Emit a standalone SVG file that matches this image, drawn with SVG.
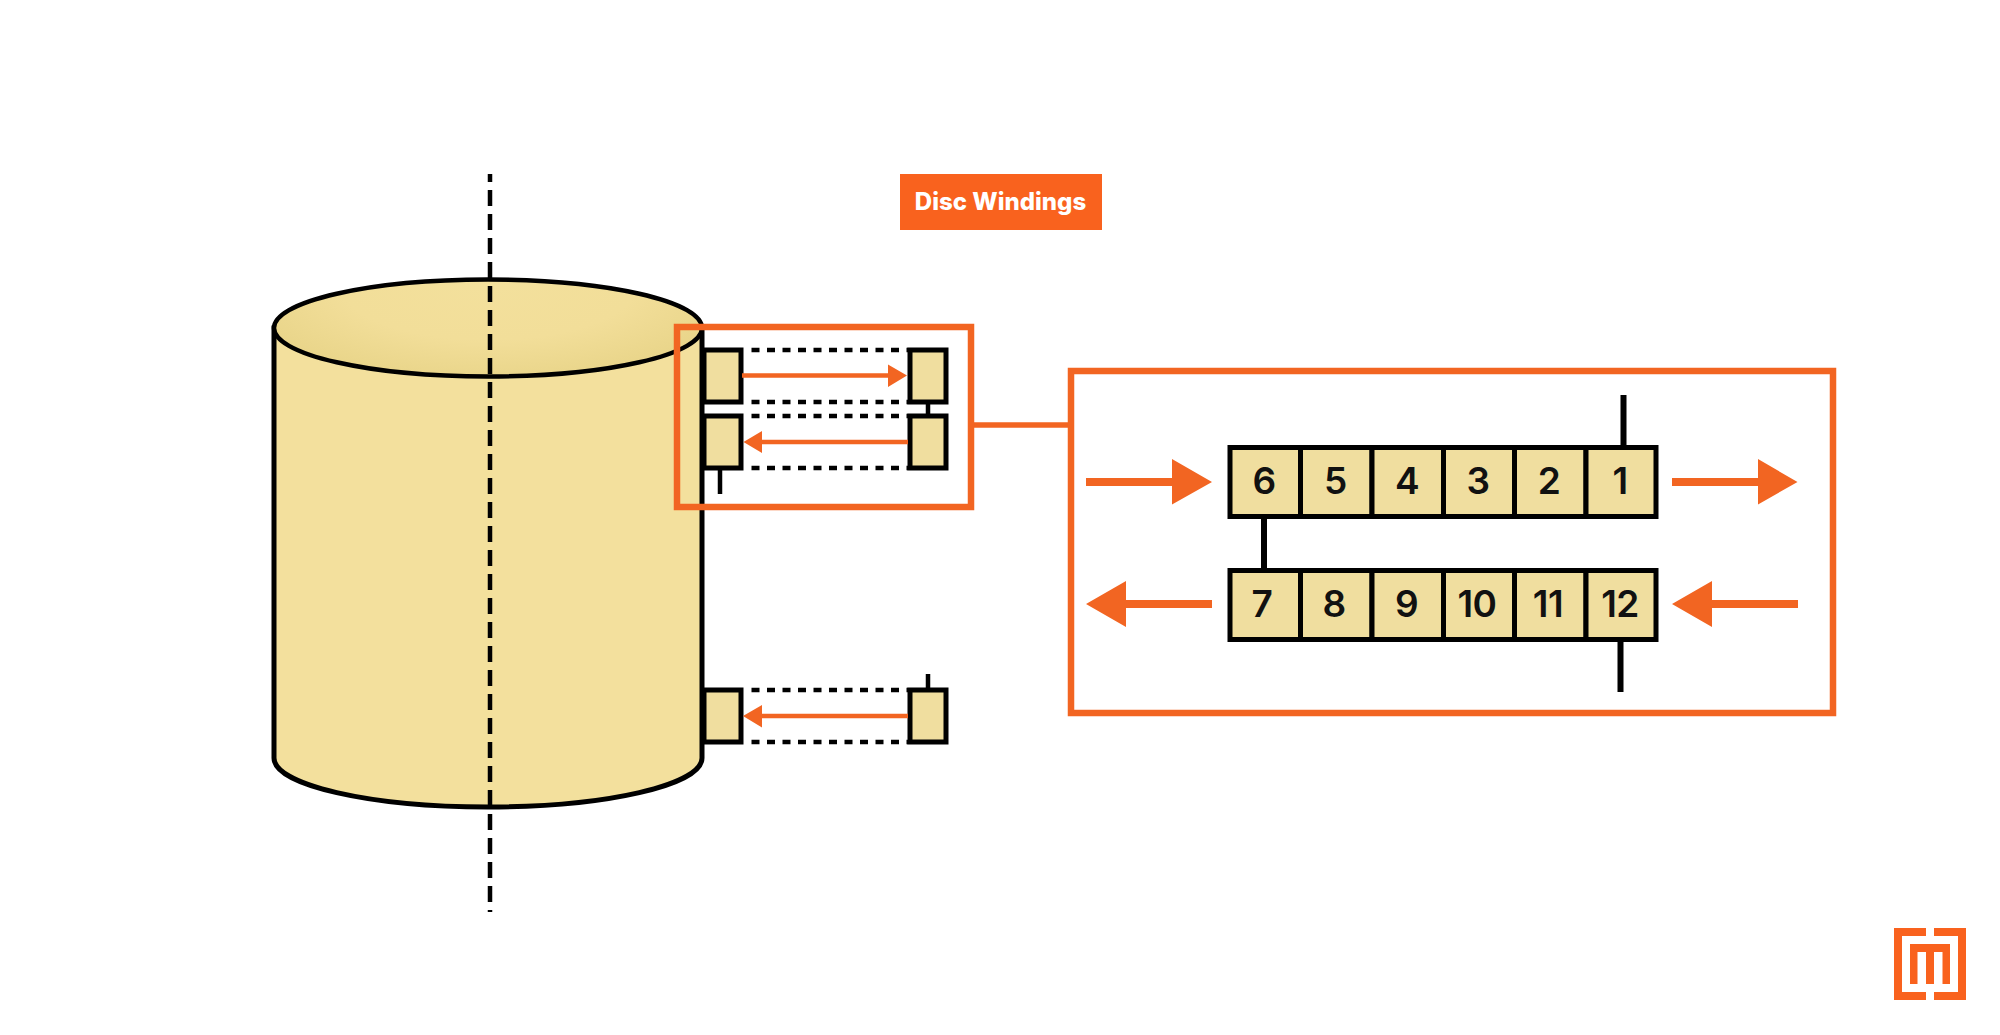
<svg xmlns="http://www.w3.org/2000/svg" width="2000" height="1035" viewBox="0 0 2000 1035">
<style>
.dash{fill:none;stroke:#000;stroke-width:4.5;stroke-dasharray:8 7.5}
.cell{fill:#F0DE9F;stroke:#000;stroke-width:5}
.wire{stroke:#000;fill:none}
.o{fill:none;stroke:#F26522;stroke-width:6.5}
.oa{fill:#F26522}
.ol{stroke:#F26522;fill:none}
.n{font-family:Inter,"Liberation Sans",sans-serif;font-size:37px;font-weight:600;fill:#111;text-anchor:middle;letter-spacing:-0.5px}
</style>
<defs>
<radialGradient id="rim" gradientUnits="userSpaceOnUse" cx="0" cy="0" r="1" gradientTransform="translate(488 285) scale(270 100)">
<stop offset="0" stop-color="#F3E09C"/><stop offset="0.55" stop-color="#F2DE99"/><stop offset="1" stop-color="#E8D488"/>
</radialGradient>
</defs>
<rect width="2000" height="1035" fill="#fff"/>

<g id="cylinder">
<path d="M274 328V758A214 49 0 0 0 702 758V328Z" fill="#F3E09D" stroke="#000" stroke-width="5"/>
<ellipse cx="488" cy="328" rx="214" ry="48.5" fill="url(#rim)" stroke="#000" stroke-width="4.500"/>
</g>
<g id="axis">
<path d="M490 174V912" fill="none" stroke="#000" stroke-width="4.500" stroke-dasharray="16 8" stroke-dashoffset="8"/>
</g>

<g id="windings-top">
<rect class="cell" x="704" y="350" width="37" height="52"/>
<rect class="cell" x="910" y="350" width="36" height="52"/>
<rect class="cell" x="704" y="416" width="37" height="52"/>
<rect class="cell" x="910" y="416" width="36" height="52"/>
</g>
<g id="windings-bottom">
<rect class="cell" x="704" y="690" width="37" height="52"/>
<rect class="cell" x="910" y="690" width="36" height="52"/>
</g>

<g id="cells">
<g id="row-top">
<rect class="cell" x="1230" y="447.5" width="70.5" height="69"/>
<rect class="cell" x="1300.500" y="447.5" width="71.500" height="69"/>
<rect class="cell" x="1372" y="447.5" width="71.5" height="69"/>
<rect class="cell" x="1443.500" y="447.5" width="71" height="69"/>
<rect class="cell" x="1514.500" y="447.5" width="71.500" height="69"/>
<rect class="cell" x="1586" y="447.5" width="70" height="69"/>
</g>
<g id="row-bottom">
<rect class="cell" x="1230" y="570.500" width="70.5" height="69"/>
<rect class="cell" x="1300.500" y="570.500" width="71.500" height="69"/>
<rect class="cell" x="1372" y="570.500" width="71.5" height="69"/>
<rect class="cell" x="1443.500" y="570.500" width="71" height="69"/>
<rect class="cell" x="1514.500" y="570.500" width="71.500" height="69"/>
<rect class="cell" x="1586" y="570.500" width="70" height="69"/>
</g>
<g id="labels">
<text class="n" x="1264" y="494">6</text>
<text class="n" x="1335.500" y="494">5</text>
<text class="n" x="1407" y="494">4</text>
<text class="n" x="1478" y="494">3</text>
<text class="n" x="1549" y="494">2</text>
<text class="n" x="1620" y="494">1</text>
<text class="n" x="1262" y="617">7</text>
<text class="n" x="1334" y="617">8</text>
<text class="n" x="1406.500" y="617">9</text>
<text class="n" x="1477" y="617">10</text>
<text class="n" x="1548" y="617">11</text>
<text class="n" x="1620" y="617">12</text>
</g>
</g>

<g id="connectors">
<path class="dash" d="M751.500 350H908M751.500 402H908M751.500 416H908M751.500 468H908M751.500 690H908M751.500 742H908"/>
<path class="wire" stroke-width="4.500" d="M928 402V416M720 470V494M928 674V688"/>
<path class="wire" stroke-width="6" d="M1623.500 395V446M1620.500 641V692M1264 518V569"/>
<path class="ol" stroke-width="4.500" d="M742 375.500H889M761 442H908M761 716H908"/>
<path class="oa" d="M888 364.500L907 375.500 888 387ZM762 431L743.500 442 762 453ZM762 705L743 716 762 727.500Z"/>
<path class="ol" stroke-width="8" d="M1086 482H1173M1672 482H1759M1125 604H1212M1711 604H1798"/>
<path class="oa" d="M1172 459L1212 482 1172 504.500ZM1758 459L1797.500 482 1758 504.500ZM1126 581L1086 604 1126 627ZM1712 581L1672 604 1712 627Z"/>
<path class="ol" stroke-width="5.500" d="M973 425H1069"/>
</g>

<g id="zoom-source"><rect class="o" x="677" y="327" width="294" height="180"/></g>
<g id="zoom-detail"><rect class="o" x="1071" y="371" width="762" height="342"/></g>

<g id="title">
<rect x="900" y="174" width="202" height="56" fill="#F9621E"/>
<text x="1000.500" y="210" font-family="Inter,'Liberation Sans',sans-serif" font-size="24" font-weight="800" fill="#fff" text-anchor="middle">Disc Windings</text>
</g>

<g id="logo" fill="#F9621E">
<path d="M1894 928H1926V936H1902V992H1926V1000H1894Z"/>
<path d="M1966 928H1934V936H1958V992H1934V1000H1966Z"/>
<path d="M1910 944H1950V984H1942.500V952H1934V984H1926V952H1917.500V984H1910Z"/>
</g>
</svg>
